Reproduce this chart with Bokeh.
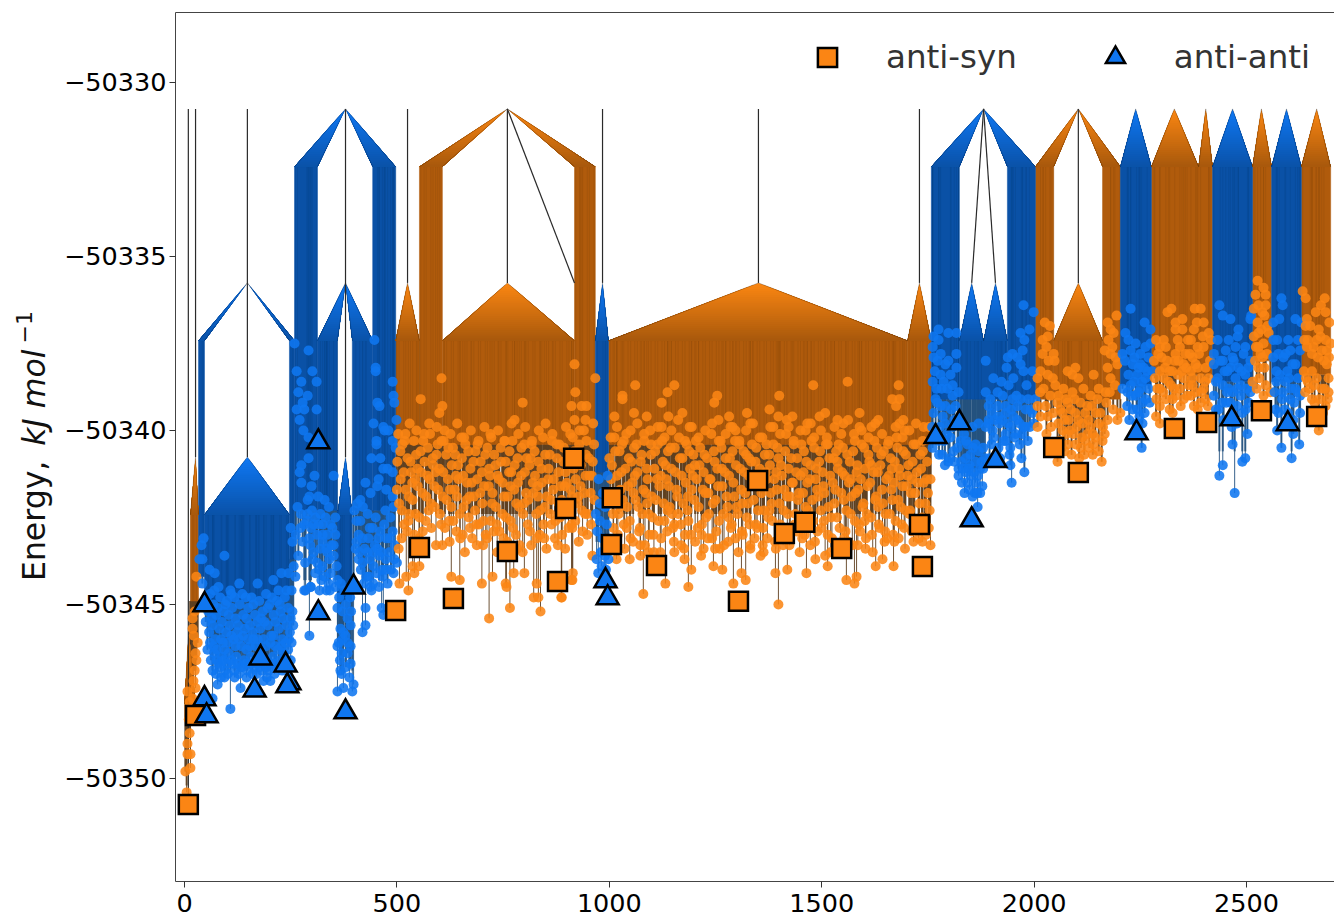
from math import ceil
from bokeh.plotting import figure
from bokeh.layouts import column
from bokeh.models import Legend, LegendItem, LinearAxis, FixedTicker, Range1d, Div
from bokeh.embed import file_html
from bokeh.resources import INLINE

BASE = -50340
# disconnectivity levels (kJ/mol)
L0, L1, L2, L3, L4, L5 = -50330.76, -50332.42, -50335.76, -50337.42, -50340.76, -50342.42
L6, L7 = -50345.75, -50347.85

syn_x = [9, 26, 497, 553, 633, 760, 878, 897, 916, 1005, 1007, 1111, 1304, 1349, 1412, 1460, 1547, 1730, 1737, 2046, 2104, 2330, 2406, 2535, 2665]
syn_e = [-10.75, -8.19, -5.17, -3.36, -4.83, -3.48, -4.34, -2.24, -0.80, -3.28, -1.93, -3.88, -4.91, -1.44, -2.96, -2.64, -3.39, -2.70, -3.91, -0.49, -1.21, 0.06, 0.23, 0.57, 0.40]
anti_x = [47, 47, 52, 165, 179, 247, 238, 242, 315, 315, 379, 398, 991, 996, 1768, 1824, 1853, 1909, 2241, 2465, 2597]
anti_e = [-5.01, -7.71, -8.20, -7.46, -6.54, -7.25, -6.74, -7.34, -0.33, -5.24, -8.09, -4.50, -4.32, -4.81, -0.18, 0.22, -2.57, -0.87, -0.07, 0.33, 0.19]

# leaves, flat x, energy pairs; energy in tenths of kJ/mol relative to BASE
orange_left = [19,-54,19,-57,31,-61,26,-64,28,-66,24,-69,21,-72,26,-74,7,-75,19,-77,12,-87,7,-90,14,-93,7,-93,2,-98,14,-97,5,-104,28,-42,17,-80,10,-83,22,-59,12,-78,24,-52]

blue_left = [45,-31,40,-33,35,-37,94,-36,42,-37,59,-40,71,-41,42,-44,129,-44,172,-44,108,-46,80,-45,209,-43,228,-41,245,-41,257,-39,261,-42,221,-46,144,-48,108,-80,132,-74,78,-73,94,-71,202,-72,186,-72,66,-77,
52,-49,60,-47,68,-50,75,-53,84,-48,92,-52,100,-49,112,-51,120,-54,130,-50,138,-53,150,-51,158,-48,166,-53,176,-49,184,-52,192,-47,200,-50,210,-53,218,-49,226,-52,236,-48,244,-51,252,-46,
50,-55,58,-58,66,-56,72,-60,82,-57,90,-61,98,-58,106,-56,116,-60,124,-58,134,-62,142,-57,150,-60,160,-58,168,-62,178,-57,186,-60,196,-56,204,-59,214,-62,222,-57,230,-60,240,-56,248,-58,
54,-63,62,-66,70,-64,80,-67,88,-65,96,-69,104,-64,114,-67,122,-65,132,-68,140,-66,148,-69,156,-65,164,-68,174,-65,182,-69,190,-66,198,-69,208,-65,216,-68,226,-66,234,-64,244,-63,252,-61,
74,-70,86,-71,102,-70,118,-71,128,-70,146,-71,170,-70,194,-71,212,-70,230,-69,
56,-52,64,-54,70,-46,78,-51,88,-55,96,-50,104,-53,110,-47,118,-48,126,-56,136,-47,146,-54,154,-56,162,-50,172,-55,180,-54,188,-55,196,-51,206,-48,214,-55,224,-50,232,-54,240,-46,250,-54,256,-56,
60,-61,68,-62,76,-63,86,-60,94,-63,102,-61,110,-59,120,-62,128,-60,138,-59,146,-63,154,-62,162,-60,172,-60,180,-63,192,-62,202,-61,210,-59,220,-63,228,-62,238,-61,246,-60,254,-52,
66,-69,76,-66,84,-68,92,-66,100,-67,110,-66,118,-69,126,-67,136,-68,144,-67,152,-67,160,-70,168,-67,178,-68,186,-67,194,-68,204,-67,212,-67,222,-68,238,-66,250,-66]

blue_mid = [259,25,292,23,264,17,301,17,275,14,311,14,268,11,290,10,278,8,264,6,282,6,311,6,271,3,280,0,292,-2,292,-8,275,-10,271,-12,306,-13,351,-13,275,-15,299,-16,315,-19,294,-19,290,-20,250,-28,273,-28,254,-32,278,-32,294,-31,304,-27,320,-24,332,-25,355,-25,344,-27,325,-30,325,-32,355,-30,351,-33,334,-34,351,-36,304,-35,301,-37,341,-37,325,-39,344,-41,322,-43,360,-43,339,-44,297,-45,285,-46,334,-46,355,-45,294,-59,282,-46,297,-45,
447,26,450,18,450,17,490,14,492,10,494,8,454,8,459,7,445,2,499,3,468,1,480,0,471,0,490,-3,452,-3,452,-4,497,-5,440,-8,461,-8,468,-11,478,-11,490,-12,457,-14,426,-15,454,-16,475,-17,438,-18,490,-19,492,-22,414,-20,407,-21,400,-23,473,-23,431,-24,450,-25,414,-26,485,-25,443,-28,419,-31,461,-29,490,-29,475,-31,410,-30,433,-31,403,-34,454,-34,431,-35,410,-37,419,-38,445,-39,466,-40,492,-41,466,-42,438,-45,440,-46,464,-51,426,-51,426,-56,419,-58,468,-53,
360,-75,374,-74,395,-75,398,-73,370,-70,367,-69,391,-67,360,-62,372,-60,391,-62,384,-64,374,-58,391,-56,360,-51,372,-52,384,-54,367,-57,379,-59,384,-61,363,-61,366,-66,380,-68,388,-71,364,-48,376,-46,
262,-30,268,-36,284,-38,288,-26,300,-23,312,-30,318,-40,330,-20,340,-22,348,-28,320,-34,336,-30,308,-41,296,-33,405,-26,420,-22,436,-28,448,-33,458,-36,470,-27,482,-35,495,-33,415,-40,428,-42,452,-41,478,-44,500,-38,486,-40,
266,-22,274,-24,282,-27,290,-24,298,-28,308,-25,316,-27,326,-27,336,-35,346,-33,358,-39,312,-38,330,-42,342,-46,318,-46,405,-32,412,-35,424,-34,436,-37,445,-35,456,-31,464,-35,474,-37,484,-31,494,-37,422,-44,434,-42,444,-44,458,-45,474,-40,368,-44,380,-50,390,-48,370,-64,392,-52]

blue_984 = [975,-14,985,-18,990,-22,978,-26,994,-27,972,-29,984,-31,996,-33,980,-35,990,-36,970,-37,998,-37,982,-39,992,-40,974,-41,988,-42,978,-21,996,-13,968,-24]

orange_mid = [605,15,556,9,607,7,600,5,796,8,777,3,918,19,920,11,911,7,935,7,946,7,918,3,944,3,1031,9,967,15,
717,-54,766,-51,838,-52,888,-48,700,-44,628,-42,648,-43,527,-46,506,-44,756,-44,758,-45,829,-44,822,-48,833,-48,800,-41,775,-41,725,-42,913,-43,914,-41,522,-42,541,-41,537,-39,553,-39,
1061,13,1031,10,1153,13,1137,11,1123,8,1254,10,1247,8,1400,10,1480,13,1561,14,1681,13,1666,9,1683,9,1675,7,1377,6,1589,5,1172,5,1058,5,1012,4,1508,5,1324,5,1282,4,1398,4,1431,4,1495,4,1537,3,1633,3,1692,3,1683,2,1589,1,1551,2,1474,2,1379,1,1332,2,1257,3,1088,4,1139,4,1189,1,1123,1,1695,0,1617,1,1740,1,1285,1,1297,0,1422,1,1462,0,
887,-48,911,-43,1080,-47,1186,-45,1132,-44,1193,-40,1177,-37,1245,-39,1266,-40,1292,-44,1311,-41,1321,-43,1391,-41,1398,-50,1419,-40,1464,-41,1514,-39,1558,-43,1582,-42,1577,-44,1627,-39,1669,-39,1643,-37,1048,-37,1073,-36,1017,-37,1092,-35,1153,-35,1222,-34,1332,-34,1363,-35,1485,-37,1603,-34,1671,-32,1756,-33,1716,-32,1737,-32,
500,-17,504,-34,508,-6,512,-23,516,-12,520,-1,524,-29,528,-19,532,-9,536,-15,540,-3,544,-24,548,-11,552,-31,556,-6,560,-18,564,-1,568,-26,572,-13,576,2,580,-21,584,-8,588,-16,592,-33,596,-4,600,-11,604,-27,608,-19,612,0,616,-7,620,-14,624,-32,628,-22,632,-5,636,-17,640,-29,644,-10,648,-24,652,-2,656,-13,660,-35,664,-20,668,-6,672,-28,676,-15,680,-9,684,-23,688,-33,692,-3,696,-18,700,-12,704,-26,708,-7,712,-31,716,-16,720,-1,724,-21,728,-29,732,-10,736,-35,740,-14,744,-5,748,-24,752,-19,756,-9,760,-32,764,-12,768,-26,772,-3,776,-17,780,-30,784,-8,788,-22,792,-13,796,-35,800,-4,804,-18,808,-27,812,-10,816,-33,820,-15,824,-6,828,-24,832,-19,836,-30,840,-11,844,-2,848,-22,852,-34,856,-14,860,-7,864,-27,868,-17,872,-31,876,-4,880,-12,884,-25,888,-20,892,-9,896,-34,900,-15,904,-28,908,-1,912,-19,916,-11,920,-26,924,-6,928,-32,932,-16,936,-23,940,0,944,-13,948,-30,952,-8,956,-18,960,-36,964,-4,
1000,-8,1004,-14,1008,-24,1012,-2,1016,-18,1020,-30,1024,-6,1028,-12,1032,-20,1036,-34,1040,-1,1044,-16,1048,-26,1052,-9,1056,-32,1060,-13,1064,-4,1068,-22,1072,-28,1076,-7,1080,-17,1084,-33,1088,-11,1092,-24,1096,0,1100,-19,1104,-30,1108,-6,1112,-14,1116,-26,1120,-35,1124,-3,1128,-21,1132,-10,1136,-29,1140,-16,1144,-5,1148,-24,1152,-32,1156,-12,1160,-19,1164,-2,1168,-27,1172,-8,1176,-34,1180,-15,1184,-23,1188,-6,1192,-30,1196,-13,1200,-20,1204,-3,1208,-28,1212,-10,1216,-36,1220,-17,1224,-7,1228,-25,1232,-31,1236,-14,1240,-1,1244,-21,1248,-9,1252,-29,1256,-16,1260,-34,1264,-5,1268,-24,1272,-12,1276,-19,1280,-32,1284,-8,1288,-27,1292,-15,1296,-3,1300,-22,1304,-35,1308,-11,1312,-29,1316,-6,1320,-18,1324,-25,1328,-13,1332,-33,1336,-4,1340,-20,1344,-9,1348,-28,1352,-16,1356,-36,1360,-2,1364,-23,1368,-12,1372,-31,1376,-7,1380,-18,1384,-26,1388,-14,1392,-34,1396,-5,1400,-21,1404,-10,1408,-29,1412,-17,1416,-1,1420,-24,1424,-33,1428,-8,1432,-15,1436,-27,1440,-12,1444,-20,1448,-35,1452,-4,1456,-18,1460,-30,1464,-9,1468,-23,1472,-14,1476,-3,1480,-26,1484,-32,1488,-11,1492,-19,1496,-6,1500,-28,1504,-16,1508,-36,1512,-2,1516,-22,1520,-13,1524,-31,1528,-8,1532,-17,1536,-25,1540,-4,1544,-34,1548,-12,1552,-20,1556,-29,1560,-7,1564,-15,1568,-24,1572,-33,1576,-1,1580,-18,1584,-10,1588,-27,1592,-14,1596,-22,1600,-5,1604,-31,1608,-16,1612,-9,1616,-25,1620,-35,1624,-3,1628,-19,1632,-12,1636,-28,1640,-7,1644,-21,1648,-32,1652,-14,1656,-4,1660,-24,1664,-17,1668,-30,1672,-9,1676,-2,1680,-20,1684,-13,1688,-27,1692,-6,1696,-34,1700,-16,1704,-10,1708,-23,1712,-29,1716,-4,1720,-18,1724,-12,1728,-31,1732,-7,1736,-25,1740,-15,1744,-21,1748,-9,1752,-28,1756,-14]

orange_mid_dense = [501,-9,505,-21,509,-14,513,-4,517,-27,521,-17,525,-8,529,-24,533,-12,537,-20,541,-30,545,-7,549,-16,553,-25,557,-12,561,-29,565,-9,569,-19,573,-5,577,-14,581,-28,585,-10,589,-22,593,-7,597,-17,601,-24,605,-3,609,-12,613,-28,617,-20,621,-5,625,-17,629,-10,633,-26,637,-7,641,-19,645,-14,649,-31,653,-8,657,-22,661,-4,665,-15,669,-25,673,-11,677,-31,681,-19,685,-6,689,-14,693,-27,697,-9,701,-21,705,-16,709,-30,713,-5,717,-11,721,-26,725,-18,729,-7,733,-22,737,-13,741,-29,745,-9,749,-15,753,-3,757,-25,761,-19,765,-6,769,-12,773,-28,777,-10,781,-21,785,-15,789,-33,793,-5,797,-24,801,-12,805,-8,809,-20,813,-29,817,-4,821,-18,825,-13,829,-31,833,-9,837,-23,841,-15,845,-27,849,-7,853,-19,857,-11,861,-24,865,-3,869,-14,873,-26,877,-8,881,-21,885,-16,889,-30,893,-5,897,-12,901,-23,905,-9,909,-17,913,-28,917,-6,921,-14,925,-21,929,-4,933,-10,937,-29,941,-18,945,-7,949,-24,953,-13,957,-27,961,-9,965,-20,
1002,-21,1006,-10,1010,-28,1014,-6,1018,-13,1022,-24,1026,-17,1030,-4,1034,-27,1038,-11,1042,-22,1046,-8,1050,-31,1054,-15,1058,-5,1062,-20,1066,-12,1070,-29,1074,-9,1078,-24,1082,-3,1086,-18,1090,-14,1094,-30,1098,-7,1102,-25,1106,-11,1110,-20,1114,-4,1118,-16,1122,-31,1126,-9,1130,-26,1134,-14,1138,-6,1142,-22,1146,-11,1150,-28,1154,-5,1158,-17,1162,-24,1166,-8,1170,-13,1174,-21,1178,-30,1182,-4,1186,-26,1190,-11,1194,-17,1198,-7,1202,-32,1206,-14,1210,-22,1214,-5,1218,-27,1222,-12,1226,-18,1230,-8,1234,-24,1238,-14,1242,-31,1246,-6,1250,-20,1254,-11,1258,-26,1262,-3,1266,-16,1270,-33,1274,-8,1278,-22,1282,-13,1286,-28,1290,-6,1294,-19,1298,-10,1302,-24,1306,-3,1310,-17,1314,-30,1318,-12,1322,-7,1326,-21,1330,-27,1334,-9,1338,-15,1342,-31,1346,-5,1350,-23,1354,-11,1358,-18,1362,-28,1366,-7,1370,-14,1374,-25,1378,-10,1382,-21,1386,-4,1390,-32,1394,-17,1398,-8,1402,-27,1406,-13,1410,-23,1414,-6,1418,-19,1422,-11,1426,-29,1430,-15,1434,-4,1438,-24,1442,-8,1446,-18,1450,-13,1454,-31,1458,-6,1462,-22,1466,-15,1470,-27,1474,-10,1478,-20,1482,-5,1486,-14,1490,-29,1494,-9,1498,-23,1502,-12,1506,-18,1510,-4,1514,-30,1518,-8,1522,-25,1526,-15,1530,-21,1534,-6,1538,-11,1542,-28,1546,-18,1550,-5,1554,-13,1558,-23,1562,-32,1566,-9,1570,-19,1574,-6,1578,-26,1582,-12,1586,-17,1590,-29,1594,-4,1598,-21,1602,-11,1606,-24,1610,-7,1614,-15,1618,-30,1622,-12,1626,-20,1630,-5,1634,-27,1638,-10,1642,-17,1646,-6,1650,-24,1654,-31,1658,-13,1662,-8,1666,-20,1670,-15,1674,-26,1678,-5,1682,-11,1686,-22,1690,-16,1694,-28,1698,-7,1702,-13,1706,-24,1710,-18,1714,-9,1718,-27,1722,-4,1726,-15,1730,-21,1734,-11,1738,-6,1742,-28,1746,-14,1750,-18,1754,-23]

# upper rim of the orange cloud, around the foot of the solid strip
orange_rim = [503,-1,518,-3,530,2,546,0,562,-3,578,-1,594,1,610,-3,626,-1,642,2,658,-2,674,0,690,-4,706,1,722,-2,738,0,754,-3,770,2,786,-1,802,1,818,-3,834,0,850,2,866,-1,882,-4,898,1,914,-2,930,0,946,-3,962,2,
1003,-2,1018,1,1034,-3,1050,0,1066,2,1082,-1,1098,-4,1114,1,1130,-2,1146,0,1162,3,1178,-3,1194,1,1210,-2,1226,0,1242,2,1258,-3,1274,-1,1290,1,1306,-4,1322,0,1338,2,1354,-2,1370,-4,1386,1,1402,-1,1418,3,1434,-3,1450,0,1466,2,1482,-2,1498,0,1514,-4,1530,1,1546,-1,1562,3,1578,-3,1594,0,1610,-2,1626,2,1642,-1,1658,-3,1674,1,1690,-2,1706,0,1722,2,1738,-3,1752,1,
511,-31,527,-26,543,-14,559,-33,575,-23,591,-12,607,-33,623,-26,639,-13,655,-30,671,-19,687,-27,703,-33,719,-13,735,-27,751,-31,767,-16,783,-34,799,-21,815,-8,831,-16,847,-31,863,-20,879,-33,895,-16,911,-27,927,-19,943,-24,959,-13,
1009,-33,1025,-22,1041,-28,1057,-18,1073,-33,1089,-21,1105,-35,1121,-13,1137,-23,1153,-27,1169,-33,1185,-19,1201,-10,1217,-30,1233,-18,1249,-34,1265,-11,1281,-25,1297,-31,1313,-21,1329,-8,1345,-27,1361,-33,1377,-23,1393,-12,1409,-33,1425,-19,1441,-29,1457,-12,1473,-33,1489,-17,1505,-26,1521,-35,1537,-9,1553,-31,1569,-14,1585,-33,1601,-26,1617,-10,1633,-22,1649,-29,1665,-11,1681,-31,1697,-23,1713,-14,1729,-27,1745,-30]

blue_right = [1798,28,1817,28,1775,29,1763,27,1775,26,1780,22,1761,24,1763,21,1773,20,1798,20,1817,22,1791,19,1817,18,1780,16,1761,14,1803,16,1787,14,1808,13,1822,11,1768,9,1808,10,1791,7,1780,7,1763,5,1815,7,1808,1,1761,-5,1784,-7,1801,-8,1798,-9,1803,-2,1827,-3,1843,-4,1862,-4,1822,-11,1839,-8,1862,-9,1846,-11,1822,-13,1839,-12,1862,-15,1873,-11,1843,-15,1878,-16,1873,-18,1836,-18,1860,-18,1867,-22,1886,20,1904,15,1923,14,1940,13,1886,11,1897,9,1914,11,1926,10,1951,15,1938,21,1949,22,1935,18,1961,21,1968,28,1989,29,1975,36,1999,34,1977,26,1973,23,1968,19,1975,17,1996,17,1982,13,2003,9,1968,9,1949,9,1933,7,1914,7,1893,7,1961,7,1980,6,1996,5,1999,2,1975,1,1951,4,1933,5,1916,4,1893,3,1869,2,1886,1,1902,0,1933,-1,1956,-1,1985,-3,1966,-4,1944,-5,1933,-3,1916,-5,1944,-10,1977,-12,1947,-15,
1770,12,1785,4,1795,-1,1775,-3,1810,-6,1790,-10,1835,-1,1850,-7,1855,1,1880,-5,1900,-4,1925,3,1945,1,1960,3,1990,1,1920,-8,1895,-8,1870,-6,1850,-13,1830,-15,1855,-19,
1766,17,1772,8,1778,1,1782,12,1790,2,1796,12,1805,6,1812,3,1820,-5,1828,-9,1840,-3,1848,-10,1856,-5,1868,-13,1876,-9,1884,-8,1892,2,1900,5,1908,3,1918,2,1928,-3,1938,2,1946,6,1954,-2,1958,10,1966,2,1972,-1,1980,1,1986,9,1992,6,1760,1,1768,-2,1776,-7,1788,-3,1812,-9,1834,-11,1848,-17,1858,-12,1866,-18,1880,-11,1905,-2,1942,-7,1970,-8]

orange_1 = [2025,31,2037,30,2032,27,2020,26,2029,24,2020,22,2046,22,2034,20,2048,20,2015,17,2008,15,2032,16,2044,15,2079,17,2097,18,2090,16,2104,15,2140,16,2194,33,2173,31,2180,29,2187,28,2175,26,2184,24,2166,23,2180,22,2192,21,2173,18,2196,19,2180,15,2069,12,2116,12,2152,12,2057,10,2090,11,2133,10,2168,11,2149,9,2055,8,2079,8,2109,8,2027,7,2008,7,2097,5,2067,5,2128,3,2152,2,2015,4,2032,4,2081,3,2057,2,2114,2,2173,3,2203,5,2196,3,2008,1,2029,-1,2067,0,2093,-1,2138,-1,2166,-1,2079,-4,2121,-3,2161,-3,2140,-4,2088,-7,2138,-7,2055,-9,2159,-9,2110,-5,2075,9,2125,7,2145,5,2045,5,2100,1,2125,-1,
2014,11,2022,12,2038,10,2050,13,2062,6,2072,3,2086,6,2095,9,2104,3,2112,-2,2120,5,2132,1,2144,-2,2156,5,2170,8,2178,11,2186,6,2190,13,2060,-3,2072,-6,2098,-4,2106,-8,2118,-7,2130,-5,2152,-6,2084,0,2076,-1,2136,7,2162,1,2040,1]

blue_2 = [2227,35,2260,31,2274,29,2222,26,2239,25,2262,24,2274,25,2227,23,2250,22,2269,21,2232,19,2250,19,2222,16,2243,16,2262,15,2278,17,2227,13,2250,12,2269,12,2239,10,2220,11,2255,8,2232,6,2255,2,2253,-5,2243,6,2235,14,2258,18,2248,4,2262,9,
2208,12,2214,20,2219,7,2224,3,2230,10,2236,21,2241,2,2246,11,2254,14,2260,5,2266,17,2272,8,2208,22,2215,28,2246,18]

orange_2 = [2314,34,2323,35,2378,35,2392,35,2349,32,2333,31,2399,31,2383,31,2333,29,2349,29,2376,29,2411,28,2287,26,2305,26,2338,26,2369,26,2397,27,2416,26,2296,24,2343,24,2385,24,2399,24,2292,22,2356,22,2333,22,2373,21,2313,20,2331,20,2352,19,2385,18,2404,18,2296,17,2319,17,2338,16,2369,17,2284,15,2305,15,2352,15,2392,15,2411,15,2322,13,2373,13,2399,12,2296,12,2333,10,2369,10,2296,7,2319,6,2287,4,2296,2,2326,5,2385,6,2404,9,2409,7,2343,12,2360,10,2380,11,2310,9,2345,7,
2282,20,2290,12,2300,21,2308,18,2316,14,2325,17,2330,12,2340,20,2348,17,2358,18,2364,13,2372,15,2380,19,2388,22,2394,11,2402,14,2414,20,2288,9,2304,11,2326,9,2352,9,2376,7,2392,8,2366,22,2310,24,2362,26]

blue_3 = [2436,36,2444,33,2462,32,2481,29,2511,33,2509,32,2432,26,2458,26,2479,27,2497,24,2423,22,2451,23,2474,24,2493,22,2444,20,2467,21,2509,20,2423,19,2455,17,2481,18,2432,15,2497,16,2474,15,2444,13,2514,13,2458,12,2486,13,2423,10,2509,11,2467,11,2486,10,2462,8,2490,5,2434,6,2465,1,2502,-1,2467,-4,2444,-10,2436,-13,2472,-18,2490,-9,2497,-8,
2428,14,2438,20,2448,17,2452,8,2462,18,2470,20,2478,12,2488,17,2500,12,2504,18,2428,6,2442,8,2454,11,2478,7,2498,6,2446,3,2478,2,2505,8]

orange_3 = [2526,43,2521,39,2540,41,2545,39,2545,36,2528,36,2517,35,2537,34,2542,33,2549,30,2526,31,2552,28,2528,28,2517,27,2540,25,2528,24,2537,21,2528,18,2545,13,2514,14,2556,11,2530,15,2520,20,2548,22,2535,29,2522,24,2533,22,2542,18,2524,12,2540,10]

blue_4 = [2582,38,2585,36,2563,31,2577,32,2615,32,2629,31,2563,26,2572,26,2598,26,2621,26,2575,22,2603,23,2626,23,2563,21,2587,21,2615,19,2570,17,2596,17,2621,15,2570,14,2591,14,2615,12,2585,11,2626,10,2603,9,2626,5,2610,-1,2572,0,2575,5,2582,-5,2606,-8,2624,-4,
2566,11,2578,16,2584,9,2592,22,2600,15,2608,19,2612,8,2620,11,2568,6,2598,5,2610,3,2590,6,2604,12]

orange_4 = [2632,40,2639,38,2684,38,2675,36,2663,34,2686,34,2642,32,2695,31,2670,29,2639,30,2686,26,2644,26,2665,26,2698,25,2642,24,2677,23,2654,22,2689,23,2689,19,2635,17,2654,17,2693,15,2644,14,2665,15,2677,12,2649,12,2693,11,2691,9,2670,0,2660,8,2680,5,
2636,26,2650,30,2658,24,2668,21,2674,27,2682,20,2694,21,2640,15,2660,13,2672,9,2684,12,2686,7,2638,11,2654,9]

# fans of the tree: colour, apex x, apex level, base level, base-left x, base-right x
wedges = [
 ("b",379,L0,L1,259,313),("b",379,L0,L1,443,497),("o",760,L0,L1,553,607),("o",760,L0,L1,918,967),
 ("b",1881,L0,L1,1758,1824),("b",1881,L0,L1,1937,2003),("o",2104,L0,L1,2003,2046),("o",2104,L0,L1,2161,2203),
 ("b",2239,L0,L1,2203,2276),("o",2330,L0,L1,2276,2387),("o",2404,L0,L1,2387,2420),("b",2467,L0,L1,2420,2514),
 ("o",2535,L0,L1,2514,2559),("b",2594,L0,L1,2559,2629),("o",2665,L0,L1,2629,2698),
 ("b",148,L2,L3,33,47),("b",148,L2,L3,247,259),("b",379,L2,L3,313,360),("b",379,L2,L3,395,443),
 ("o",525,L2,L3,497,553),("o",760,L2,L3,607,918),("b",984,L2,L3,967,998),("o",1351,L2,L3,998,1702),
 ("o",1730,L2,L3,1702,1758),("b",1853,L2,L3,1824,1881),("b",1909,L2,L3,1881,1937),("o",2104,L2,L3,2046,2161),
 ("b",148,L4,L5,47,247),("b",379,L4,L5,360,395),("o",26,L4,L5,14,33),("o",10,L6,L7,0,26),
]
# solid strips: colour, left x, right x, top level, bottom energy
bands = [
 ("o",14,33,L5,-50344.9),("o",0,14,L7,-50348.2),("b",33,47,L3,-50344.2),("b",47,247,L5,-50344.9),("b",247,259,L3,-50343.7),
 ("b",259,313,L1,-50342.3),("b",313,360,L3,-50342.3),("b",360,395,L5,-50344.9),("b",395,443,L3,-50342.3),("b",443,497,L1,-50342.3),
 ("o",497,553,L3,-50340.4),("o",553,607,L1,-50340.4),("o",607,918,L3,-50340.4),("o",918,967,L1,-50340.4),("b",967,998,L3,-50341.2),
 ("o",998,1702,L3,-50340.4),("o",1702,1758,L3,-50340.4),("b",1758,1824,L1,-50339.1),("b",1824,1937,L3,-50339.1),("b",1937,2003,L1,-50339.1),
 ("o",2003,2046,L1,-50339.1),("o",2046,2161,L3,-50339.1),("o",2161,2203,L1,-50339.1),("b",2203,2276,L1,-50338.7),("o",2276,2420,L1,-50338.4),
 ("b",2420,2514,L1,-50338.6),("o",2514,2559,L1,-50338.0),("b",2559,2629,L1,-50338.6),("o",2629,2698,L1,-50338.4),
]
# single black branches: x0, e0, x1, e1
branches = [(9,L0,9,-50350.75),(26,L0,26,L4),(148,L0,148,L4),(379,L0,379,L4),(525,L0,525,L2),(760,L0,760,L2),(760,L0,918,L2),
 (984,L0,984,L2),(1351,L0,1351,L2),(1730,L0,1730,L2),(1881,L0,1853,L2),(1881,L0,1909,L2),(2104,L0,2104,L2)]

x_ticks = [0, 500, 1000, 1500, 2000, 2500]
y_ticks = [-50330, -50335, -50340, -50345, -50350]

ORANGE, BLUE = "#fb8514", "#0f76f0"
BRIGHT = {"o": (251,135,18), "b": (15,120,244)}
DARK = {"o": (168,88,12), "b": (10,82,168)}
BAND = {"o": "#b05b0c", "b": "#0a51a6"}
STRIPE = {"o": "#7a3f08", "b": "#063a7a"}
STEM = {"o": "#5e3f20", "b": "#24527f"}

p = figure(width=1334, height=917, output_backend="svg", toolbar_location=None,
           x_range=Range1d(-21.2, 2707), y_range=Range1d(-50352.96, -50327.99),
           min_border_left=175, min_border_right=0, min_border_top=12, min_border_bottom=36)
p.grid.visible = False
p.outline_line_color = None
p.background_fill_color = "white"

leaf_groups = [("o",orange_left),("b",blue_left),("b",blue_mid),("o",orange_mid),("o",orange_mid_dense),("o",orange_rim),("b",blue_984),("b",blue_right),("o",orange_1),
               ("b",blue_2),("o",orange_2),("b",blue_3),("o",orange_3),("b",blue_4),("o",orange_4)]

def band_of(x, c):
    for b in bands:
        if b[0] == c and b[1] <= x <= b[2]:
            return b
    return None

for c in "ob":
    sx, s0, s1, dx, d1, tx, t0, t1 = [], [], [], [], [], [], [], []
    for gc, flat in leaf_groups:
        if gc != c:
            continue
        for x, v in zip(flat[0::2], flat[1::2]):
            e = BASE + v / 10
            b = band_of(x, c)
            if b is None:
                continue
            if e < b[4]:
                sx.append(x); s0.append(b[4]); s1.append(e)
                dx.append(x); d1.append(max(e, b[4] - 2.0))
            tx.append(x); t0.append(b[3]); t1.append(b[4])
    p.segment(sx, s0, sx, s1, line_color=STEM[c], line_width=1.0, line_alpha=0.9)
    p.segment(dx, s0, dx, d1, line_color=STEM[c], line_width=2.0, line_alpha=0.85)
    p.quad(left=[b[1] for b in bands if b[0]==c], right=[b[2] for b in bands if b[0]==c],
           top=[b[3] for b in bands if b[0]==c], bottom=[b[4] for b in bands if b[0]==c],
           fill_color=BAND[c], line_color=BAND[c], line_width=0.5)
    p.segment(tx[::4], t0[::4], tx[::4], t1[::4], line_color=STRIPE[c], line_width=1.0, line_alpha=0.2)

def hexc(a, b, t):
    return "#%02x%02x%02x" % tuple(round(a[i] + (b[i] - a[i]) * t) for i in range(3))

xs, ys, cs, ox, oy = [], [], [], [], []
for c, ax, top, base, a, b in wedges:
    n = max(4, ceil(abs(top - base) / 0.06))
    for k in range(n):
        t0 = k / n
        # each slice reaches down to the base, so the next one paints over it without a seam
        xs.append([ax + (a - ax) * t0, a, b, ax + (b - ax) * t0])
        ys.append([top + (base - top) * t0, base, base, top + (base - top) * t0])
        cs.append(hexc(BRIGHT[c], DARK[c], t0 + 0.5 / n))
    ox.append([a, ax, b]); oy.append([base, top, base])
p.patches(xs, ys, fill_color=cs, line_color=None)
p.multi_line(ox, oy, line_color="#000000", line_alpha=0.3, line_width=0.8)
p.segment([b[0] for b in branches], [b[1] for b in branches], [b[2] for b in branches], [b[3] for b in branches],
          line_color="#2a2a2a", line_width=1.2)

for c, flat in leaf_groups:
    p.scatter(flat[0::2], [BASE + v / 10 for v in flat[1::2]], size=10, marker="circle",
              fill_color=ORANGE if c == "o" else BLUE, fill_alpha=0.88, line_color=None)

r_syn = p.scatter(syn_x, [BASE + v for v in syn_e], marker="square", size=19, fill_color=ORANGE, line_color="black", line_width=2.5, line_join="miter")
r_anti = p.scatter(anti_x, [BASE + v for v in anti_e], marker="triangle", size=22, fill_color=BLUE, line_color="black", line_width=2.5, line_join="miter")

legend = Legend(items=[LegendItem(label="anti-syn", renderers=[r_syn]), LegendItem(label="anti-anti", renderers=[r_anti])],
                orientation="horizontal", location=(628, 800), margin=0, padding=0, glyph_width=48, glyph_height=48,
                label_standoff=35, spacing=74, background_fill_alpha=0, border_line_alpha=0,
                label_text_font="DejaVu Sans", label_text_font_size="32.5px", label_text_color="#333333")
p.add_layout(legend)

for ax, ticks in ((p.xaxis[0], x_ticks), (p.yaxis[0], y_ticks)):
    ax.ticker = FixedTicker(ticks=ticks)
    ax.major_label_text_font = "DejaVu Sans"
    ax.major_label_text_font_size = "25.5px"
    ax.major_label_text_color = "black"
    ax.major_tick_out = 6
    ax.major_tick_in = 0
    ax.major_tick_line_color = "#333333"
    ax.minor_tick_line_color = None
    ax.axis_line_color = "#444444"
    ax.major_label_standoff = 3
p.xaxis[0].major_label_standoff = 6
p.yaxis[0].major_label_overrides = {t: "\u2212" + str(abs(t)) for t in y_ticks}

top_axis = LinearAxis(ticker=FixedTicker(ticks=[]), major_label_text_font_size="0px", axis_line_color="#444444",
                      major_tick_line_color=None, minor_tick_line_color=None)
p.add_layout(top_axis, "above")

y_label = ('Energy, <i style="margin-left:5px">kJ mol</i>'
           '<span style="font-size:22px;position:relative;top:-13px;margin-left:6px">\u22121</span>')
div = Div(text=y_label, margin=0,
          stylesheets=[":host{position:absolute !important;left:16px;top:581px;width:400px;height:40px;"
                       "transform-origin:0 0;transform:rotate(-90deg);z-index:10;white-space:nowrap;}"
                       "div{font:31.5px 'DejaVu Sans';color:#111111;line-height:normal;white-space:nowrap;}"])

page = column(div, p, spacing=0, margin=0)
open("out.html", "w").write(file_html(page, INLINE))
